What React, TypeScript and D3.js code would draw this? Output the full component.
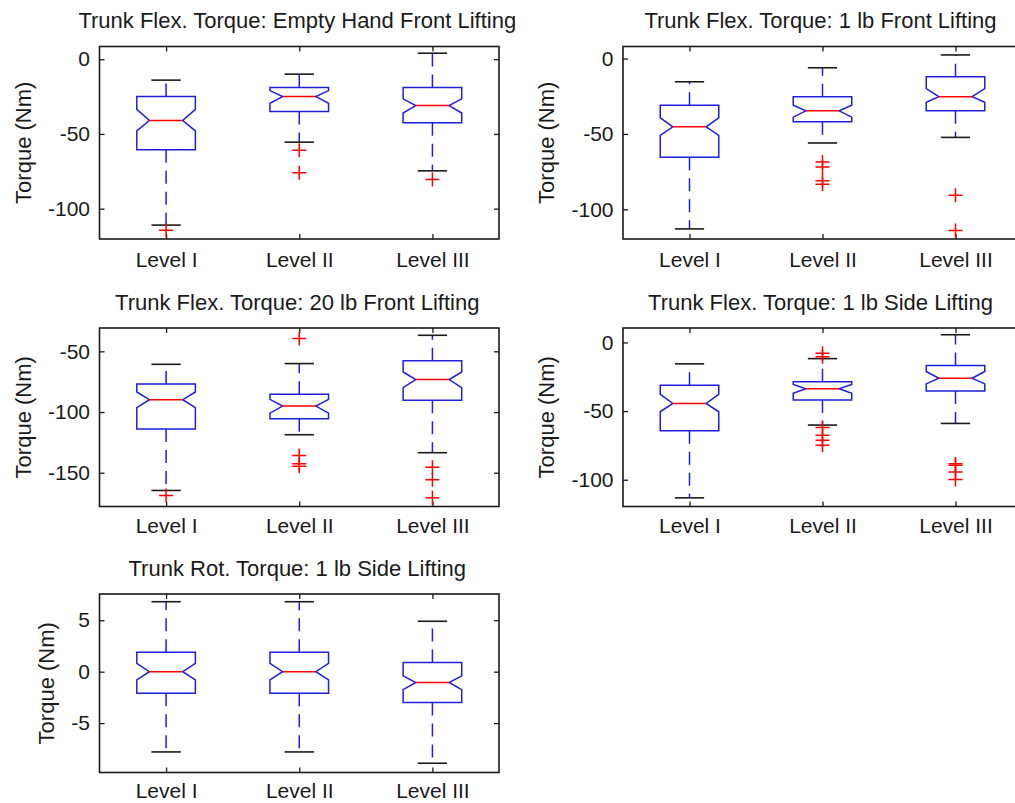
import React, { useEffect, useRef } from 'react';
import * as d3 from 'd3';

const levels = ['Level I', 'Level II', 'Level III'];

const titles = [
  'Trunk Flex. Torque: Empty Hand Front Lifting',
  'Trunk Flex. Torque: 1 lb Front Lifting',
  'Trunk Flex. Torque: 20 lb Front Lifting',
  'Trunk Flex. Torque: 1 lb Side Lifting',
  'Trunk Rot. Torque: 1 lb Side Lifting',
];

// each level: [lower whisker, Q1, notch low, median, notch high, Q3, upper whisker]
const emptyFrontBoxes = [
  [-111, -60.5, -48, -41, -33.6, -25, -14],
  [-55.5, -35, -29.5, -25, -21, -19, -10],
  [-74.7, -42.5, -36, -31, -26.5, -19, 4],
];
const emptyFrontOutliers = [[-114.5], [-61, -76], [-80.5]];

const oneFrontBoxes = [
  [-113, -65.5, -51, -45.3, -39.3, -31, -15.4],
  [-56, -42, -38.9, -34.7, -31, -25.3, -6.1],
  [-52.3, -34.7, -29, -25.3, -20, -12, 2.4],
];
const oneFrontOutliers = [[], [-68.6, -71.9, -81.1, -83.3], [-90.6, -114]];

const twentyFrontBoxes = [
  [-164.6, -114, -96.4, -89.8, -83.5, -77, -60.7],
  [-118.7, -105.5, -100.9, -95.1, -89.6, -85.4, -60.1],
  [-133.5, -90.4, -80, -73.3, -67, -57.7, -36.8],
];
const twentyFrontOutliers = [[-168.7], [-39.5, -135.7, -142.6, -144.6], [-145.4, -155.8, -170.6]];

const oneSideBoxes = [
  [-113.2, -64.4, -50.5, -44.4, -37.8, -31.2, -15.6],
  [-60.2, -42, -37, -33.8, -30.7, -28.7, -11.8],
  [-59, -35.4, -30.2, -26.1, -21.2, -16.8, 5.6],
];
const oneSideOutliers = [[], [-7.8, -10.5, -62, -67.6, -71.3, -74.9], [-88.3, -89.5, -94.4, -99.8]];

const rotSideBoxes = [
  [-7.8, -2.1, -0.8, 0, 0.8, 1.9, 6.8],
  [-7.8, -2.1, -0.8, 0, 0.8, 1.9, 6.8],
  [-8.9, -3, -1.75, -1.05, -0.4, 0.9, 4.9],
];
const rotSideOutliers = [[], [], []];

const allBoxes = [emptyFrontBoxes, oneFrontBoxes, twentyFrontBoxes, oneSideBoxes, rotSideBoxes];
const allOutliers = [emptyFrontOutliers, oneFrontOutliers, twentyFrontOutliers, oneSideOutliers, rotSideOutliers];

const yLimits = [
  [-120.3, 8.5],
  [-119.7, 8.0],
  [-177.8, -30.8],
  [-119.5, 10.5],
  [-9.8, 7.55],
];
const yTicks = [
  [-100, -50, 0],
  [-100, -50, 0],
  [-150, -100, -50],
  [-100, -50, 0],
  [-5, 0, 5],
];

const W = 1015;
const H = 803;
const FONT = '"Liberation Sans", Arial, Helvetica, sans-serif';

// axes rectangles in pixels (2nd column runs past the right edge, as in the original)
const frames = [
  { x0: 99.5, x1: 499, y0: 46.5, y1: 239, pad: 13 },
  { x0: 623, x1: 1022, y0: 46.5, y1: 239, pad: 13 },
  { x0: 99.5, x1: 499, y0: 328, y1: 506.5, pad: 11.5 },
  { x0: 623, x1: 1022, y0: 328, y1: 506.5, pad: 11.5 },
  { x0: 99.5, x1: 499, y0: 594, y1: 772.5, pad: 10.5 },
];

const BLUE = '#1f1fdd';
const RED = '#ff0000';
const INK = '#1a1a1a';

const App = () => {
  const ref = useRef<SVGSVGElement>(null);

  useEffect(() => {
    const svg = d3.select(ref.current);
    svg.selectAll('*').remove();

    frames.forEach((f, i) => {
      const x = d3.scaleLinear().domain([0.5, 3.5]).range([f.x0, f.x1]);
      const y = d3.scaleLinear().domain(yLimits[i]).range([f.y1, f.y0]);
      const g = svg.append('g').style('font-family', FONT);

      // box geometry in x units
      const halfW = 0.22;
      const notchW = 0.125;
      const capW = 0.11;

      // axes: inward ticks on all four sides
      const left = g
        .append('g')
        .attr('transform', `translate(${f.x0},0)`)
        .call(d3.axisLeft(y).tickValues(yTicks[i]).tickSize(-5).tickPadding(9.5).tickFormat((d) => `${d}`));
      const right = g
        .append('g')
        .attr('transform', `translate(${f.x1},0)`)
        .call(d3.axisRight(y).tickValues(yTicks[i]).tickSize(-5).tickFormat(() => ''));
      const bottom = g
        .append('g')
        .attr('transform', `translate(0,${f.y1})`)
        .call(
          d3
            .axisBottom(x)
            .tickValues([1, 2, 3])
            .tickSize(-5)
            .tickPadding(f.pad)
            .tickFormat((d) => levels[(d as number) - 1])
        );
      const top = g
        .append('g')
        .attr('transform', `translate(0,${f.y0})`)
        .call(d3.axisTop(x).tickValues([1, 2, 3]).tickSize(-5).tickFormat(() => ''));

      [left, right, bottom, top].forEach((a) => {
        a.select('.domain').remove();
        a.attr('color', INK).attr('font-size', 21).attr('font-family', FONT);
        a.selectAll('line').attr('stroke-width', 1.3);
      });

      // boxes
      allBoxes[i].forEach((b, k) => {
        const [lo, q1, nLo, med, nHi, q3, hi] = b;
        const c = k + 1;

        // whiskers
        g.append('line')
          .attr('x1', x(c)).attr('x2', x(c))
          .attr('y1', y(q3)).attr('y2', y(hi))
          .attr('stroke', BLUE).attr('stroke-width', 1.5).attr('stroke-dasharray', '13,8');
        g.append('line')
          .attr('x1', x(c)).attr('x2', x(c))
          .attr('y1', y(q1)).attr('y2', y(lo))
          .attr('stroke', BLUE).attr('stroke-width', 1.5).attr('stroke-dasharray', '13,8');

        // caps
        [lo, hi].forEach((v) => {
          g.append('line')
            .attr('x1', x(c - capW)).attr('x2', x(c + capW))
            .attr('y1', y(v)).attr('y2', y(v))
            .attr('stroke', INK).attr('stroke-width', 1.6);
        });

        // notched box
        const pts: [number, number][] = [
          [c - halfW, q1], [c - halfW, nLo], [c - notchW, med], [c - halfW, nHi], [c - halfW, q3],
          [c + halfW, q3], [c + halfW, nHi], [c + notchW, med], [c + halfW, nLo], [c + halfW, q1],
        ];
        g.append('path')
          .attr('d', d3.line()(pts.map(([px, py]) => [x(px), y(py)])) + 'Z')
          .attr('fill', 'none').attr('stroke', BLUE).attr('stroke-width', 1.5);

        // median
        g.append('line')
          .attr('x1', x(c - notchW)).attr('x2', x(c + notchW))
          .attr('y1', y(med)).attr('y2', y(med))
          .attr('stroke', RED).attr('stroke-width', 1.5);

        // outliers
        allOutliers[i][k].forEach((v) => {
          const ox = x(c);
          const oy = y(v);
          g.append('path')
            .attr('d', `M${ox - 7},${oy}H${ox + 7}M${ox},${oy - 7}V${oy + 7}`)
            .attr('stroke', RED).attr('stroke-width', 1.5).attr('fill', 'none');
        });
      });

      // frame
      g.append('rect')
        .attr('x', f.x0).attr('y', f.y0)
        .attr('width', f.x1 - f.x0).attr('height', f.y1 - f.y0)
        .attr('fill', 'none').attr('stroke', INK).attr('stroke-width', 1.6);

      // title
      g.append('text')
        .attr('x', (f.x0 + f.x1) / 2 - 2)
        .attr('y', f.y0 - 18.5)
        .attr('text-anchor', 'middle')
        .attr('font-size', 22)
        .attr('fill', INK)
        .text(titles[i]);

      // y label, placed left of the widest tick label
      let maxW = 0;
      left.selectAll<SVGTextElement, unknown>('text').each(function () {
        maxW = Math.max(maxW, this.getComputedTextLength());
      });
      const lx = f.x0 - 9.5 - maxW - 17;
      g.append('text')
        .attr('transform', `translate(${lx},${(f.y0 + f.y1) / 2}) rotate(-90)`)
        .attr('text-anchor', 'middle')
        .attr('font-size', 22)
        .attr('fill', INK)
        .text('Torque (Nm)');
    });
  }, []);

  return (
    <svg
      ref={ref}
      width={W}
      height={H}
      style={{ position: 'absolute', left: 0, top: 0, background: '#fff', overflow: 'hidden' }}
    />
  );
};

export default App;
